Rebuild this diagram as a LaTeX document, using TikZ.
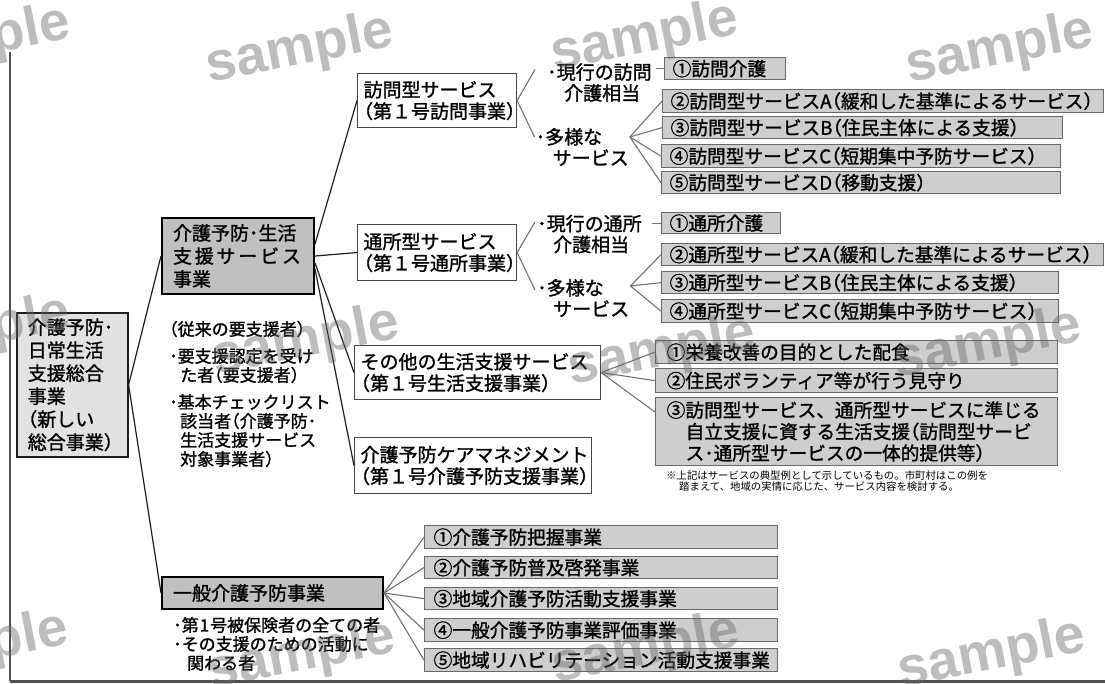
\documentclass[tikz,border=0pt]{standalone}
\usepackage{fontspec}
\setmainfont{Noto Sans CJK JP}[AutoFakeBold=1.3]
\newfontfamily\thinjp{Noto Sans CJK JP}
\newfontfamily\wmfont{Liberation Sans}
\usetikzlibrary{calc}
\newcommand\LP{{\addfontfeature{RawFeature=+halt}（}}
\newcommand\RP{{\addfontfeature{RawFeature=+halt}）}}
\definecolor{rootg}{RGB}{226,226,226}
\definecolor{midg}{RGB}{192,192,192}
\definecolor{leafg}{RGB}{206,206,206}
\definecolor{leafedge}{RGB}{105,105,105}
\definecolor{edgeg}{RGB}{70,70,70}
\definecolor{connc}{RGB}{30,30,30}
\definecolor{fanc}{RGB}{115,115,115}
\definecolor{wmc}{RGB}{100,100,100}
\definecolor{framec}{RGB}{80,80,80}
\tikzset{
  basebox/.style={anchor=north west, inner ysep=0pt, align=left},
  rootbox/.style={basebox, draw=connc, line width=1.6pt, fill=rootg, inner xsep=11pt, font=\bfseries\fontsize{19}{23}\selectfont},
  midbox/.style={basebox, draw=black, line width=2pt, fill=midg, inner xsep=11pt, font=\bfseries\fontsize{19}{23}\selectfont},
  svcbox/.style={basebox, draw=edgeg, line width=1.1pt, fill=white, inner xsep=6pt, font=\bfseries\fontsize{19}{21.5}\selectfont},
  leaf/.style={basebox, draw=leafedge, line width=1.3pt, fill=leafg, inner xsep=8pt, font=\bfseries\fontsize{18.7}{21.5}\selectfont},
  lbl/.style={anchor=west, inner sep=0pt, align=left, font=\bfseries\fontsize{19}{21}\selectfont},
  note/.style={anchor=west, inner sep=0pt, align=left, font=\bfseries\fontsize{17}{19}\selectfont},
  foot/.style={anchor=west, inner sep=0pt, align=left, font=\thinjp\fontsize{10.4}{11.5}\selectfont},
  conn/.style={draw=connc, line width=1.2pt},
  fan/.style={draw=fanc, line width=1.1pt},
  wm/.style={font=\wmfont\bfseries\fontsize{55}{55}\selectfont, text=wmc, opacity=0.42, rotate=11, inner sep=0pt},
}
\begin{document}
\begin{tikzpicture}[x=1pt,y=-1pt]
\useasboundingbox (0,0) rectangle (1105,684);
\clip (0,0) rectangle (1105,684);
\fill[white] (0,0) rectangle (1105,684);
% frame
\draw[framec, line width=1.4pt] (10,52) -- (10,681);
\draw[framec, line width=3pt] (10,681) -- (1105,681);

% main boxes
\node[rootbox, text width=89pt, minimum height=144pt] (root) at (16,312)
  {介護予防･\\日常生活\\支援総合\\事業\\\LP 新しい\\総合事業\RP};
\node[midbox, text width=130pt, minimum height=76pt] (lv2a) at (161,217)
  {介護予防･生活\\\leavevmode\hbox to 128pt{支\hfil 援\hfil サ\hfil ー\hfil ビ\hfil ス}\\事業};
\node[midbox, text width=199pt, minimum height=32pt] (lv2b) at (161,576) {一般介護予防事業};

\node[svcbox, text width=147pt, minimum height=54pt] (houmon) at (357,73)
  {訪問型サービス\\\LP 第１号訪問事業\RP};
\node[svcbox, text width=147pt, minimum height=56pt] (tsusho) at (357,224)
  {通所型サービス\\\LP 第１号通所事業\RP};
\node[svcbox, text width=234pt, minimum height=54pt] (sonota) at (354,345)
  {その他の生活支援サービス\\\LP 第１号生活支援事業\RP};
\node[svcbox, text width=225pt, minimum height=56pt] (care) at (354,437)
  {介護予防ケアマネジメント\\\LP 第１号介護予防支援事業\RP};

% labels
\node[lbl] (hgH) at (547,82.5) {･現行の訪問\\\hspace*{17pt}介護相当};
\node[lbl] (tyH) at (535.5,147) {･多様な\\\hspace*{17pt}サービス};
\node[lbl] (hgT) at (537,234) {･現行の通所\\\hspace*{16pt}介護相当};
\node[lbl] (tyT) at (537,298) {･多様な\\\hspace*{16pt}サービス};

% leaves: houmon
\node[leaf, text width=105pt, minimum height=22pt] (h1) at (664,57) {①訪問介護};
\node[leaf, text width=425pt, minimum height=23pt] (h2) at (662,89) {②訪問型サービスA\LP 緩和した基準によるサービス\RP};
\node[leaf, text width=384pt, minimum height=22pt] (h3) at (662,116) {③訪問型サービスB\LP 住民主体による支援\RP};
\node[leaf, text width=383pt, minimum height=23pt] (h4) at (661,144) {④訪問型サービスC\LP 短期集中予防サービス\RP};
\node[leaf, text width=383pt, minimum height=22pt] (h5) at (661,171) {⑤訪問型サービスD\LP 移動支援\RP};
% leaves: tsusho
\node[leaf, text width=103pt, minimum height=21pt] (t1) at (661,212) {①通所介護};
\node[leaf, text width=426pt, minimum height=22pt] (t2) at (661,243) {②通所型サービスA\LP 緩和した基準によるサービス\RP};
\node[leaf, text width=381pt, minimum height=22pt] (t3) at (661,271) {③通所型サービスB\LP 住民主体による支援\RP};
\node[leaf, text width=381pt, minimum height=23pt] (t4) at (661,299) {④通所型サービスC\LP 短期集中予防サービス\RP};
% leaves: sonota
\node[leaf, inner xsep=11pt, text width=380pt, minimum height=23pt] (s1) at (655,340) {①栄養改善の目的とした配食};
\node[leaf, inner xsep=11pt, text width=380pt, minimum height=24pt] (s2) at (655,368) {②住民ボランティア等が行う見守り};
\node[leaf, inner xsep=11pt, text width=380pt, minimum height=68pt] (s3) at (655,397)
  {③訪問型サービス、通所型サービスに準じる\\\hspace*{19pt}自立支援に資する生活支援\LP 訪問型サービ\\\hspace*{19pt}ス･通所型サービスの一体的提供等\RP};
% leaves: ippan
\node[leaf, inner xsep=9pt, text width=335pt, minimum height=23pt] (g1) at (424,525) {①介護予防把握事業};
\node[leaf, inner xsep=9pt, text width=335pt, minimum height=22pt] (g2) at (424,556) {②介護予防普及啓発事業};
\node[leaf, inner xsep=9pt, text width=335pt, minimum height=22pt] (g3) at (424,587) {③地域介護予防活動支援事業};
\node[leaf, inner xsep=9pt, text width=335pt, minimum height=23pt] (g4) at (424,618) {④一般介護予防事業評価事業};
\node[leaf, inner xsep=9pt, text width=335pt, minimum height=23pt] (g5) at (424,648) {⑤地域リハビリテーション活動支援事業};

% notes
\node[note] (midnotes) at (169,394)
  {\LP 従来の要支援者\RP\\[8pt]･要支援認定を受け\\\hspace*{11pt}た者\LP 要支援者\RP\\[8pt]･基本チェックリスト\\\hspace*{11pt}該当者\LP 介護予防･\\\hspace*{11pt}生活支援サービス\\\hspace*{11pt}対象事業者\RP};
\node[note] (botnotes) at (173,644)
  {･第\kern1pt 1\kern1pt 号被保険者の全ての者\\･その支援のための活動に\\\hspace*{14pt}関わる者};
\node[foot] (footnote) at (666,481)
  {※上記はサービスの典型例として示しているもの。市町村はこの例を\\\hspace*{13pt}踏まえて、地域の実情に応じた、サービス内容を検討する。};

% connectors: main
\draw[conn] (root.east) -- (lv2a.west);
\draw[conn] (root.east) -- (lv2b.west);
\draw[conn] ($(lv2a.east)+(0,-12)$) -- (houmon.west);
\draw[conn] (lv2a.east) -- (tsusho.west);
\draw[conn] ($(lv2a.east)+(0,7)$) -- (sonota.west);
\draw[conn] ($(lv2a.east)+(0,13)$) -- (care.west);

% houmon branch
\draw[fan] (houmon.east) -- ($(hgH.west)+(-12,-13)$);
\draw[fan] (houmon.east) -- ($(tyH.west)+(-1,-10)$);
\coordinate (hgHe) at (hgH.east |- h1.west);
\draw[fan] ($(hgHe)+(4,0)$) -- (h1.west);
\coordinate (fH) at ($(tyH.east)+(1,-10)$);
\foreach \n in {h2,h3,h4,h5} \draw[fan] (fH) -- (\n.west);

% tsusho branch
\draw[fan] (tsusho.east) -- ($(hgT.west)+(-2,-12)$);
\draw[fan] (tsusho.east) -- ($(tyT.west)+(-2,-8)$);
\coordinate (hgTe) at (hgT.east |- t1.west);
\draw[fan] ($(hgTe)+(10,0)$) -- (t1.west);
\coordinate (fT) at ($(tyT.east)+(1,-12)$);
\foreach \n in {t2,t3,t4} \draw[fan] (fT) -- (\n.west);

% sonota branch
\draw[fan] (sonota.east) -- (s1.west);
\draw[fan] (sonota.east) -- (s2.west);
\draw[fan] (sonota.east) -- ($(s3.north west)+(0,15)$);

% ippan branch
\foreach \n in {g1,g2,g3,g4,g5} \draw[fan] (lv2b.east) -- (\n.west);

% watermarks
\node[wm] (wm1) at (-23,42) {sample};
\node[wm] (wm2) at (300,50) {sample};
\node[wm] (wm3) at (645,38) {sample};
\node[wm] (wm4) at (1000,50) {sample};
\node[wm] (wm5) at (-23,332) {sample};
\node[wm] (wm6) at (306,342) {sample};
\node[wm] (wm7) at (662,352) {sample};
\node[wm] (wm8) at (988,345) {sample};
\node[wm] (wm9) at (-25,648) {sample};
\node[wm] (wm10) at (302,656) {sample};
\node[wm] (wm11) at (646,650) {sample};
\node[wm] (wm12) at (992,655) {sample};
\end{tikzpicture}
\end{document}
